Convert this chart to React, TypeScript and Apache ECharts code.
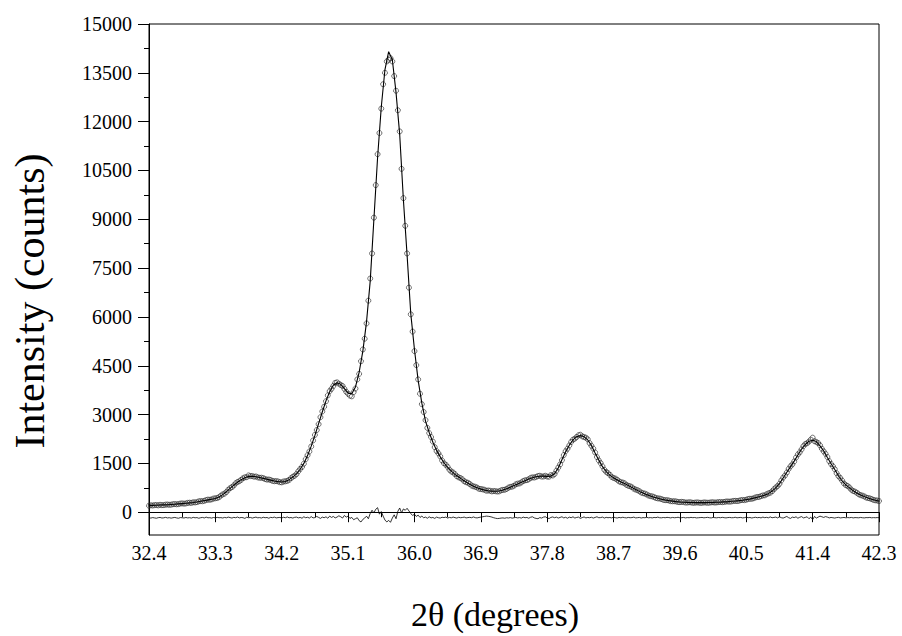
import React, { useEffect, useRef } from "react";
import * as echarts from "echarts";

// Sampling grids (2θ, degrees)
const CALC_START = 32.4;
const CALC_STEP = 0.05;
const OBS_START = 32.4;
const OBS_STEP = 0.025;

// Calculated profile (counts), every 0.05°
const calcValues = [
  205, 210, 215, 220, 225, 230, 238, 245, 255, 265,
  275, 288, 300, 315, 335, 355, 380, 400, 420, 470,
  540, 630, 730, 830, 920, 1000, 1060, 1100, 1105, 1090,
  1065, 1040, 1010, 985, 960, 940, 930, 945, 1000, 1080,
  1180, 1320, 1500, 1740, 2030, 2360, 2720, 3080, 3420, 3700,
  3900, 3980, 3930, 3800, 3660, 3640, 3850, 4300, 4950, 5850,
  7100, 9000, 10900, 12450, 13600, 14150, 13900, 12900, 11600, 9600,
  7900, 6100, 5000, 4050, 3350, 2800, 2450, 2150, 1900, 1700,
  1520, 1380, 1260, 1160, 1080, 1000, 930, 860, 800, 750,
  710, 680, 660, 648, 642, 650, 680, 720, 770, 820,
  870, 920, 970, 1020, 1060, 1090, 1105, 1110, 1100, 1110,
  1180, 1360, 1610, 1860, 2060, 2220, 2320, 2360, 2320, 2220,
  2050, 1820, 1600, 1400, 1250, 1140, 1060, 990, 930, 880,
  820, 760, 700, 640, 590, 540, 500, 460, 430, 400,
  375, 355, 340, 325, 315, 308, 302, 298, 296, 294,
  294, 295, 297, 300, 305, 310, 318, 326, 335, 345,
  357, 370, 388, 408, 432, 462, 490, 525, 570, 650,
  750, 880, 1050, 1230, 1400, 1570, 1760, 1940, 2080, 2180,
  2210, 2170, 2040, 1880, 1680, 1490, 1310, 1120, 960, 840,
  750, 660, 590, 530, 480, 440, 400, 370, 340,
];

// Observed intensities (counts), every 0.025°
const obsValues = [
  200, 214, 206, 218, 222, 210, 228, 216, 220, 232,
  236, 228, 232, 246, 250, 244, 250, 266, 272, 262,
  270, 288, 292, 286, 306, 300, 310, 334, 342, 338,
  350, 374, 388, 382, 395, 420, 428, 436, 462, 512,
  548, 572, 622, 690, 740, 772, 822, 888, 930, 952,
  995, 1045, 1072, 1076, 1130, 1110, 1112, 1090, 1098, 1070,
  1058, 1060, 1048, 1018, 1002, 1005, 990, 962, 952, 956,
  946, 922, 918, 944, 950, 962, 992, 1046, 1090, 1120,
  1172, 1258, 1330, 1392, 1490, 1630, 1752, 1866, 2020, 2205,
  2375, 2525, 2705, 2920, 3095, 3240, 3410, 3590, 3720, 3790,
  3880, 3975, 3990, 3950, 3910, 3880, 3790, 3700, 3640, 3580,
  3560, 3690, 3800, 4080, 4250, 4640, 5000, 5330, 5800, 6500,
  7180, 7950, 9050, 10050, 11000, 11650, 12400, 13150, 13500, 13850,
  13900, 13950, 13850, 13400, 12950, 12350, 11700, 10550, 9650, 8800,
  7950, 6900, 6080, 5550, 4950, 4520, 4080, 3640, 3320, 3080,
  2830, 2590, 2430, 2310, 2170, 2000, 1880, 1810, 1715, 1590,
  1505, 1460, 1395, 1305, 1250, 1222, 1170, 1105, 1070, 1050,
  1010, 952, 922, 905, 868, 818, 795, 782, 758, 720,
  712, 702, 690, 660, 668, 660, 640, 652, 645, 636,
  642, 672, 688, 690, 715, 756, 778, 786, 812, 858,
  878, 884, 915, 958, 980, 985, 1012, 1055, 1070, 1066,
  1085, 1112, 1120, 1096, 1098, 1120, 1095, 1090, 1140, 1128,
  1172, 1275, 1370, 1468, 1600, 1755, 1875, 1950, 2050, 2160,
  2230, 2260, 2310, 2365, 2380, 2330, 2310, 2290, 2240, 2125,
  2040, 1955, 1835, 1695, 1590, 1510, 1410, 1305, 1240, 1200,
  1150, 1085, 1052, 1035, 998, 948, 922, 912, 888, 840,
  812, 798, 768, 722, 695, 678, 646, 606, 584, 572,
  545, 512, 495, 486, 466, 436, 425, 420, 405, 380,
  370, 370, 360, 340, 336, 338, 330, 314, 310, 318,
  312, 298, 298, 306, 302, 290, 292, 300, 298, 288,
  290, 300, 298, 290, 294, 304, 305, 296, 302, 312,
  314, 308, 315, 328, 330, 324, 332, 346, 350, 344,
  352, 370, 376, 372, 384, 406, 414, 412, 428, 454,
  468, 470, 495, 515, 518, 552, 578, 598, 642, 705,
  760, 805, 872, 975, 1062, 1130, 1220, 1330, 1412, 1470,
  1560, 1680, 1775, 1840, 1930, 2030, 2095, 2120, 2170, 2230,
  2290, 2180, 2160, 2125, 2055, 1950, 1870, 1795, 1695, 1570,
  1480, 1412, 1322, 1200, 1110, 1050, 972, 885, 832, 805,
  758, 692, 652, 632, 598, 550, 524, 510, 486, 452,
  436, 425, 405, 378, 366, 360, 345,
];

// Difference curve (obs - calc, drawn shifted below zero), every 0.025°
const diffValues = [
  -170, -180, -165, -175, -185, -168, -160, -178, -172, -158, -176, -168, -182, -170, -160, -175, -185, -165, -170, -178,
  -162, -175, -168, -180, -158, -172, -165, -185, -170, -160, -176, -150, -172, -168, -180, -162, -175, -158, -170, -166,
  -178, -160, -172, -150, -165, -180, -158, -170, -148, -175, -162, -168, -190, -155, -170, -160, -180, -165, -150, -172,
  -165, -178, -155, -170, -162, -185, -158, -168, -150, -175, -165, -160, -178, -155, -170, -145, -172, -162, -180, -158,
  -150, -175, -160, -185, -140, -170, -155, -180, -135, -175, -165, -130, -160, -190, -150, -170, -140, -185, -120, -160,
  -130, -175, -150, -110, -140, -180, -100, -150, -120, -190, -160, -230, -200, -170, -260, -300, -220, -180, -120, -200,
  -40, 60, -20, 90, 140, -60, 20, -120, -240, -300, -250, -310, -180, -80, -200, 30, 130, -20, 100, 60,
  120, 40, -40, -100, -60, -130, -90, -160, -120, -170, -150, -185, -140, -175, -160, -190, -150, -170, -180, -155,
  -165, -150, -178, -160, -172, -148, -168, -180, -155, -170, -162, -150, -175, -165, -158, -170, -145, -168, -175, -160,
  -150, -140, -130, -120, -125, -135, -150, -170, -185, -195, -190, -180, -175, -185, -170, -178, -165, -182, -170, -160,
  -175, -165, -180, -150, -170, -160, -185, -155, -140, -175, -190, -200, -165, -180, -150, -140, -175, -195, -160, -145,
  -170, -150, -180, -160, -140, -175, -155, -185, -150, -170, -140, -180, -160, -150, -190, -165, -145, -175, -160, -170,
  -155, -180, -160, -140, -170, -165, -150, -180, -158, -170, -162, -175, -150, -168, -178, -160, -172, -155, -168, -175,
  -160, -170, -165, -150, -175, -168, -160, -178, -165, -170, -158, -172, -165, -175, -160, -168, -150, -170, -172, -162,
  -170, -158, -165, -175, -160, -170, -165, -155, -172, -168, -160, -175, -165, -170, -158, -168, -162, -175, -170, -165,
  -160, -172, -165, -158, -170, -175, -160, -168, -172, -162, -170, -158, -168, -175, -165, -160, -170, -168, -155, -172,
  -165, -160, -175, -168, -150, -170, -162, -178, -165, -155, -170, -160, -175, -150, -168, -158, -172, -145, -170, -160,
  -150, -175, -140, -168, -180, -155, -130, -170, -190, -150, -165, -140, -185, -155, -135, -175, -160, -140, -200, -150,
  -230, -130, -180, -150, -120, -140, -160, -135, -150, -175, -160, -170, -180, -165, -158, -175, -168, -160, -172, -165,
  -170, -160, -175, -165, -168, -172, -160, -170, -175, -165, -168, -160, -172, -166, -170, -165, -168,
];

// Axis ticks
const xMajorTicks = [32.4, 33.3, 34.2, 35.1, 36.0, 36.9, 37.8, 38.7, 39.6, 40.5, 41.4, 42.3];
const xMinorTicks = [32.85, 33.75, 34.65, 35.55, 36.45, 37.35, 38.25, 39.15, 40.05, 40.95, 41.85];
const yMajorTicks = [0, 1500, 3000, 4500, 6000, 7500, 9000, 10500, 12000, 13500, 15000];
const yMinorTicks = [750, 2250, 3750, 5250, 6750, 8250, 9750, 11250, 12750, 14250];

const X_MIN = 32.4;
const X_MAX = 42.3;
const Y_MIN = -700;
const Y_MAX = 15000;

const FONT = "Times New Roman";

export default function App() {
  const ref = useRef<HTMLDivElement>(null);

  useEffect(() => {
    if (!ref.current) return;
    const chart = echarts.init(ref.current, undefined, { renderer: "svg" });
    const calc = calcValues.map((v, i) => [Number((CALC_START + i * CALC_STEP).toFixed(3)), v]);
    const obs = obsValues.map((v, i) => [Number((OBS_START + i * OBS_STEP).toFixed(3)), v]);
    const diff = diffValues.map((v, i) => [Number((OBS_START + i * OBS_STEP).toFixed(3)), v]);

    const axisLine = { show: true, lineStyle: { color: "#000", width: 1 } };

    chart.setOption({
      animation: false,
      backgroundColor: "#fff",
      textStyle: { fontFamily: FONT },
      grid: {
        left: 149,
        right: 23,
        top: 24,
        bottom: 101,
        show: true,
        borderColor: "#000",
        borderWidth: 1,
        backgroundColor: "transparent",
      },
      xAxis: [
        {
          type: "value",
          min: X_MIN,
          max: X_MAX,
          position: "bottom",
          axisLine,
          splitLine: { show: false },
          axisTick: { show: true, customValues: xMajorTicks, length: 10, lineStyle: { color: "#000" } },
          axisLabel: {
            show: true,
            customValues: xMajorTicks,
            formatter: (v: number) => v.toFixed(1),
            fontFamily: FONT,
            fontSize: 20,
            color: "#000",
            margin: 8,
          },
        },
        {
          type: "value",
          min: X_MIN,
          max: X_MAX,
          position: "bottom",
          axisLine: { show: false },
          splitLine: { show: false },
          axisTick: { show: true, customValues: xMinorTicks, length: 5, lineStyle: { color: "#000" } },
          axisLabel: { show: false },
        },
      ],
      yAxis: [
        {
          type: "value",
          min: Y_MIN,
          max: Y_MAX,
          position: "left",
          axisLine,
          splitLine: { show: false },
          axisTick: { show: true, customValues: yMajorTicks, length: 11, lineStyle: { color: "#000" } },
          axisLabel: {
            show: true,
            customValues: yMajorTicks,
            formatter: (v: number) => String(v),
            fontFamily: FONT,
            fontSize: 20,
            color: "#000",
            margin: 17,
          },
        },
        {
          type: "value",
          min: Y_MIN,
          max: Y_MAX,
          position: "left",
          axisLine: { show: false },
          splitLine: { show: false },
          axisTick: { show: true, customValues: yMinorTicks, length: 5, lineStyle: { color: "#000" } },
          axisLabel: { show: false },
        },
      ],
      series: [
        {
          type: "scatter",
          xAxisIndex: 0,
          yAxisIndex: 0,
          data: obs,
          symbol: "circle",
          symbolSize: 5,
          itemStyle: { color: "rgba(0,0,0,0)", borderColor: "#222", borderWidth: 0.8 },
          z: 2,
        },
        {
          type: "line",
          xAxisIndex: 0,
          yAxisIndex: 0,
          data: calc,
          showSymbol: false,
          lineStyle: { color: "#000", width: 1.1 },
          z: 3,
        },
        {
          type: "line",
          xAxisIndex: 0,
          yAxisIndex: 0,
          data: diff,
          showSymbol: false,
          lineStyle: { color: "#000", width: 0.8 },
          z: 3,
        },
      ],
      graphic: [
        {
          type: "text",
          x: 30,
          y: 301,
          rotation: Math.PI / 2,
          style: {
            text: "Intensity (counts)",
            fontFamily: FONT,
            fontSize: 42,
            fill: "#000",
            align: "center",
            verticalAlign: "middle",
          },
        },
        {
          type: "text",
          x: 495,
          y: 614,
          style: {
            text: "2θ (degrees)",
            fontFamily: FONT,
            fontSize: 34,
            fill: "#000",
            align: "center",
            verticalAlign: "middle",
          },
        },
      ],
    });

    return () => chart.dispose();
  }, []);

  return (
    <div
      ref={ref}
      style={{ position: "fixed", left: 0, top: 0, width: 902, height: 636 }}
    />
  );
}
